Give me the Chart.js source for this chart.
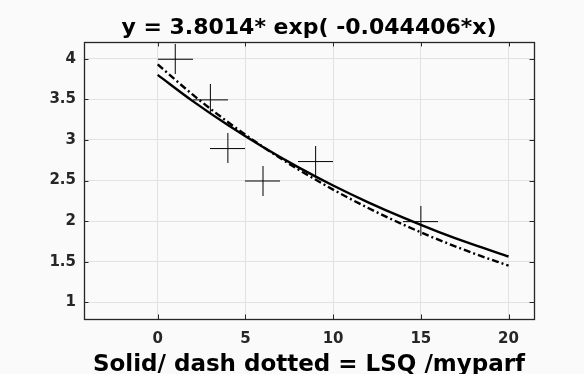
<!DOCTYPE html>
<html>
<head>
<meta charset="utf-8">
<script src="https://cdn.jsdelivr.net/npm/chart.js@4.4.1/dist/chart.umd.min.js"></script>
<style>
  html, body { margin: 0; padding: 0; background: #fafafa; }
  #wrap { width: 584px; height: 374px; }
</style>
</head>
<body>
<div id="wrap"><canvas id="c" width="584" height="374"></canvas></div>
<script>
// ---- data ----
const titleText = 'y = 3.8014* exp( -0.044406*x)';
const xLabelText = 'Solid/ dash dotted = LSQ /myparf';

const xObs = [1, 3, 4, 6, 9, 15];
const yObs = [4.0, 3.5, 2.9, 2.5, 2.74, 2.0];

const xFit = [0, 2, 4, 6, 8, 10, 12, 14, 16, 18, 20];
const ySolid = [3.801, 3.478, 3.183, 2.912, 2.665, 2.438, 2.231, 2.042, 1.868, 1.709, 1.564];
const yDashDot = [3.93, 3.557, 3.220, 2.915, 2.638, 2.388, 2.161, 1.956, 1.771, 1.603, 1.451];

const xTicks = [0, 5, 10, 15, 20];
const yTicks = [1, 1.5, 2, 2.5, 3, 3.5, 4];
const xRange = [-4.2, 21.45];
const yRange = [0.794, 4.206];

// ---- styling ----
const FONT = "'DejaVu Sans', 'Liberation Sans', sans-serif";
const AXIS_COLOR = '#262626';
const BG = '#fafafa';

function pts(xs, ys) { return xs.map((x, i) => ({ x: x, y: ys[i] })); }

// cross marker (wider than tall, thin lines)
const crossMarker = (function () {
  const c = document.createElement('canvas');
  c.width = 35; c.height = 30;
  const g = c.getContext('2d');
  g.strokeStyle = '#000';
  g.lineWidth = 1;
  g.beginPath();
  g.moveTo(0, 15.5); g.lineTo(35, 15.5);
  g.moveTo(17.5, 0); g.lineTo(17.5, 30);
  g.stroke();
  return c;
})();

const bgPlugin = {
  id: 'bg',
  beforeDraw(chart) {
    const ctx = chart.ctx;
    ctx.save();
    ctx.fillStyle = BG;
    ctx.fillRect(0, 0, chart.width, chart.height);
    ctx.restore();
  }
};

const boxPlugin = {
  id: 'box',
  afterDraw(chart) {
    const ctx = chart.ctx;
    const a = chart.chartArea;
    const xs = chart.scales.x, ys = chart.scales.y;
    const L = 4.5;
    ctx.save();
    ctx.strokeStyle = AXIS_COLOR;
    ctx.lineWidth = 1;
    ctx.beginPath();
    xTicks.forEach(v => {
      const px = Math.round(xs.getPixelForValue(v)) + 0.5;
      ctx.moveTo(px, a.bottom); ctx.lineTo(px, a.bottom - L);
      ctx.moveTo(px, a.top); ctx.lineTo(px, a.top + L);
    });
    yTicks.forEach(v => {
      const py = Math.round(ys.getPixelForValue(v)) + 0.5;
      ctx.moveTo(a.left, py); ctx.lineTo(a.left + L, py);
      ctx.moveTo(a.right, py); ctx.lineTo(a.right - L, py);
    });
    ctx.stroke();
    ctx.lineWidth = 1.3;
    ctx.strokeRect(Math.round(a.left) + 0.5, Math.round(a.top) + 0.5,
                   Math.round(a.right - a.left), Math.round(a.bottom - a.top));
    ctx.restore();
  }
};

new Chart(document.getElementById('c'), {
  type: 'scatter',
  data: {
    datasets: [
      {
        label: 'LSQ',
        data: pts(xFit, ySolid),
        showLine: true,
        borderColor: '#000',
        borderWidth: 2.4,
        pointRadius: 0,
        cubicInterpolationMode: 'monotone',
        fill: false
      },
      {
        label: 'myparf',
        data: pts(xFit, yDashDot),
        showLine: true,
        borderColor: '#000',
        borderWidth: 2.4,
        borderDash: [7, 3, 2, 3],
        pointRadius: 0,
        cubicInterpolationMode: 'monotone',
        fill: false
      },
      {
        label: 'data',
        data: pts(xObs, yObs),
        showLine: false,
        pointStyle: crossMarker,
        pointRadius: 15,
        borderColor: '#000',
        backgroundColor: '#000'
      }
    ]
  },
  options: {
    responsive: false,
    animation: false,
    devicePixelRatio: 1,
    layout: { padding: { left: 0, right: 50, top: 0, bottom: 0 } },
    plugins: {
      legend: { display: false },
      tooltip: { enabled: false },
      title: {
        display: true,
        text: titleText,
        fullSize: false,
        color: '#000',
        font: { family: FONT, size: 22, weight: 'bold', lineHeight: 1.2 },
        padding: { top: 15.1, bottom: 0.5 }
      }
    },
    scales: {
      x: {
        type: 'linear',
        position: 'bottom',
        min: xRange[0],
        max: xRange[1],
        afterBuildTicks: s => { s.ticks = xTicks.map(v => ({ value: v })); },
        afterFit: s => { s.height = 55; },
        grid: { color: '#e2e2e2', lineWidth: 1, drawTicks: false },
        border: { display: false },
        ticks: {
          padding: 11,
          color: AXIS_COLOR,
          font: { family: FONT, size: 15, weight: 'bold' },
          callback: v => String(v)
        },
        title: {
          display: true,
          text: xLabelText,
          color: '#000',
          font: { family: FONT, size: 23, weight: 'bold', lineHeight: 0.6 },
          padding: { top: 0, bottom: 2.3 }
        }
      },
      y: {
        type: 'linear',
        position: 'left',
        min: yRange[0],
        max: yRange[1],
        afterBuildTicks: s => { s.ticks = yTicks.map(v => ({ value: v })); },
        afterFit: s => { s.width = 84; },
        grid: { color: '#e2e2e2', lineWidth: 1, drawTicks: false },
        border: { display: false },
        ticks: {
          padding: 8,
          color: AXIS_COLOR,
          font: { family: FONT, size: 15, weight: 'bold' },
          callback: v => String(v)
        }
      }
    }
  },
  plugins: [bgPlugin, boxPlugin]
});
</script>
</body>
</html>
